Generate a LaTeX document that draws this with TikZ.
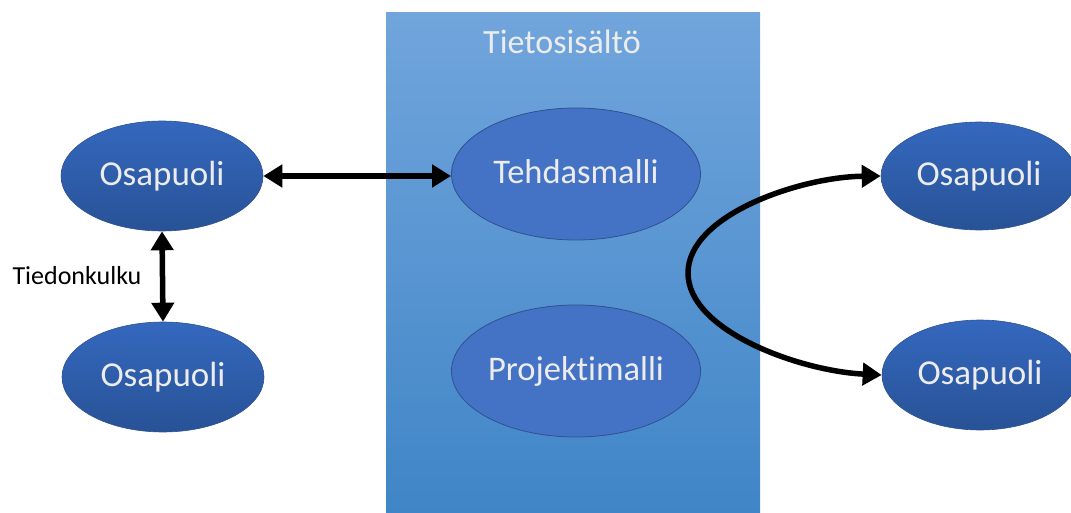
\documentclass[tikz,border=0pt]{standalone}
\usepackage{fontspec}
\setmainfont{Carlito}[Ligatures=NoCommon]
\usetikzlibrary{shapes.geometric,arrows.meta}
\definecolor{boxtop}{RGB}{113,165,220}
\definecolor{boxbot}{RGB}{62,132,198}
\definecolor{ostop}{RGB}{52,104,190}
\definecolor{osbot}{RGB}{40,82,150}
\definecolor{modfill}{RGB}{68,114,196}
\definecolor{edgeblue}{RGB}{47,82,143}
\definecolor{lighttext}{RGB}{236,236,236}
\tikzset{
  party/.style={ellipse, inner sep=0pt, top color=ostop, bottom color=osbot,
    draw=edgeblue, line width=0.6pt, text=lighttext,
    font=\fontsize{35}{40}\selectfont, minimum width=202pt, minimum height=110pt},
  model/.style={ellipse, inner sep=0pt, fill=modfill, draw=edgeblue, line width=0.8pt,
    text=lighttext, font=\fontsize{34.5}{40}\selectfont, minimum width=249pt, minimum height=132pt},
  contbox/.style={rectangle, inner sep=0pt, top color=boxtop, bottom color=boxbot,
    draw=none, minimum width=374pt, minimum height=520pt, anchor=north west},
  arr/.style={line width=5.5pt, {Triangle[length=19pt,width=22pt]}-{Triangle[length=19pt,width=22pt]}},
}
\begin{document}
\begin{tikzpicture}[x=1pt,y=-1pt]
\useasboundingbox (0,0) rectangle (1071,513);
\node[contbox] (box) at (386,12) {};
\node[text=lighttext, font=\fontsize{34}{38}\selectfont] (title) at (562,42) {Tietosisältö};
\node[model] (th) at (576,174) {\makebox[0pt]{\raisebox{5pt}{Tehdasmalli}}};
\node[model] (pm) at (576,371) {\makebox[0pt]{\raisebox{1pt}{Projektimalli}}};
\node[party] (lt) at (162,176) {\makebox[0pt]{\raisebox{6pt}{Osapuoli}}};
\node[party] (lb) at (163,377) {\makebox[0pt]{Osapuoli}};
\node[party, minimum width=196pt, minimum height=108pt] (rt) at (979,176) {\makebox[0pt]{Osapuoli}};
\node[party, minimum width=196pt, minimum height=110pt] (rb) at (980,375) {\makebox[0pt]{\raisebox{4pt}{Osapuoli}}};
\node[font=\fontsize{26}{30}\selectfont, text=black] (flow) at (77,276) {Tiedonkulku};
\draw[arr] (lt.east) -- (th.west |- lt.east);
\draw[arr] (lt.south) -- (lb.north);
\coordinate (bend) at (688,273);
\draw[arr] (rt.west) .. controls (800,177) and (688,215) .. (bend)
  .. controls (688,331) and (800,371) .. (rb.west);
\end{tikzpicture}
\end{document}
